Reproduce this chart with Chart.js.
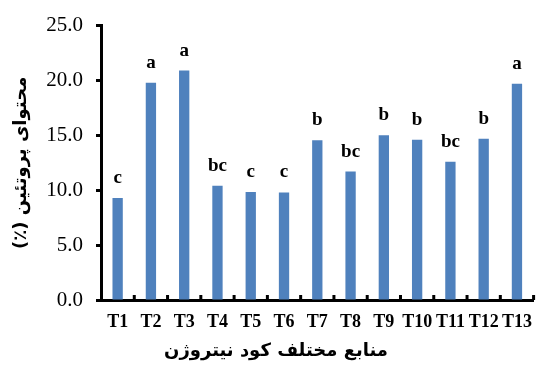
<!DOCTYPE html>
<html>
<head>
<meta charset="utf-8">
<script src="https://cdn.jsdelivr.net/npm/chart.js@4"></script>
<style>
  html, body { margin: 0; padding: 0; background: #fff; }
  #grafico { display: block; }
</style>
</head>
<body>
<canvas id="grafico" width="544" height="365"></canvas>
<script>
const TRATAMENTOS = ['T1', 'T2', 'T3', 'T4', 'T5', 'T6', 'T7', 'T8', 'T9', 'T10', 'T11', 'T12', 'T13'];
const PROTEINA = [9.3, 19.8, 20.9, 10.4, 9.85, 9.8, 14.55, 11.7, 15.0, 14.6, 12.6, 14.7, 19.7];
const LETRAS = ['c', 'a', 'a', 'bc', 'c', 'c', 'b', 'bc', 'b', 'b', 'bc', 'b', 'a'];
const Y_TICKS = [0, 5, 10, 15, 20, 25];

// \u200F no fim mantém o "(٪)" dentro do trecho RTL
const TITULO_Y = 'محتوای پروتئین (٪)\u200F';
const TITULO_X = 'منابع مختلف کود نیتروژن';

const COR_BARRA = '#4f81bd';
const SERIF = '"Liberation Serif", "Times New Roman", serif';
const ARABE = '"DejaVu Sans", sans-serif';

// ── letras de significância acima das barras ────────────────────────────────
const pluginLetras = {
  id: 'letras',
  afterDatasetsDraw(chart) {
    const ctx = chart.ctx;
    const meta = chart.getDatasetMeta(0);
    ctx.save();
    ctx.font = 'bold 19px ' + SERIF;
    ctx.fillStyle = '#000';
    ctx.textAlign = 'center';
    ctx.textBaseline = 'alphabetic';
    meta.data.forEach((bar, i) => {
      ctx.fillText(LETRAS[i], bar.x, bar.y - 15);
    });
    ctx.restore();
  }
};

// ── marcas internas do eixo x + título do eixo x ────────────────────────────
const pluginEixoX = {
  id: 'eixoX',
  afterDraw(chart) {
    const ctx = chart.ctx;
    const x = chart.scales.x;
    const base = chart.chartArea.bottom;
    const meio = (x.getPixelForValue(1) - x.getPixelForValue(0)) / 2;
    ctx.save();
    ctx.fillStyle = '#000';
    for (let i = 0; i < TRATAMENTOS.length; i++) {
      const px = x.getPixelForValue(i) + meio;
      ctx.fillRect(px - 1.5, base - 5, 3, 5);
    }
    ctx.font = 'bold 18px ' + ARABE;
    ctx.textAlign = 'center';
    ctx.textBaseline = 'middle';
    ctx.direction = 'rtl';
    ctx.fillText(TITULO_X, 276, 351);
    ctx.restore();
  }
};

new Chart(document.getElementById('grafico'), {
  type: 'bar',
  data: {
    labels: TRATAMENTOS,
    datasets: [{
      data: PROTEINA,
      backgroundColor: COR_BARRA,
      borderWidth: 0,
      categoryPercentage: 1,
      barPercentage: 0.31
    }]
  },
  options: {
    responsive: false,
    animation: false,
    layout: { padding: { top: 23, right: 1, left: 0, bottom: 0 } },
    plugins: {
      legend: { display: false },
      tooltip: { enabled: false }
    },
    scales: {
      x: {
        grid: { display: false, drawTicks: false },
        border: { display: true, color: '#000', width: 3 },
        ticks: {
          color: '#000',
          padding: 12,
          maxRotation: 0,
          autoSkip: false,
          font: { family: SERIF, size: 18, weight: 'bold' }
        },
        afterFit(scale) { scale.height = 65; }
      },
      y: {
        min: 0,
        max: 25,
        afterBuildTicks(scale) {
          scale.ticks = Y_TICKS.map(v => ({ value: v }));
        },
        grid: {
          drawOnChartArea: false,
          drawTicks: true,
          tickLength: 5,
          tickWidth: 3,
          tickColor: '#000'
        },
        border: { display: true, color: '#000', width: 3 },
        ticks: {
          color: '#000',
          padding: 13,
          font: { family: SERIF, size: 21 },
          callback: v => Number(v).toFixed(1)
        },
        title: {
          display: true,
          text: TITULO_Y,
          color: '#000',
          padding: { top: 11, bottom: 0 },
          font: { family: ARABE, size: 18, weight: 'bold' }
        },
        afterFit(scale) { scale.width = 101; }
      }
    }
  },
  plugins: [pluginLetras, pluginEixoX]
});
</script>
</body>
</html>
